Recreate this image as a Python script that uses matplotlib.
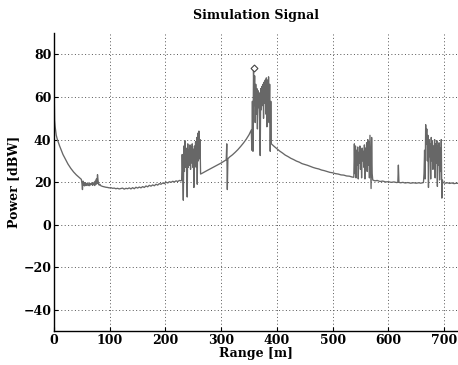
import numpy as np
import matplotlib
matplotlib.use("Agg")
import matplotlib.pyplot as plt

# ---- data (range in m, power in dBW) ----
near_range = [0, 1, 2, 4, 6, 8, 10, 13, 16, 20, 25, 30, 35, 40, 45, 49]
near_power = [66, 49, 46, 42, 40, 38.5, 37, 35, 33, 31, 28.5, 26.5, 24.8, 23.4, 22.2, 21.3]

clutter_start = 50
clutter_power = [19.5, 16.5, 20.5, 18.5, 19.8, 18.2, 19.5, 18.7, 19.2, 18.4,
                 19.6, 18.8, 19.1, 18.3, 19.4, 18.6, 19.3, 18.9, 19.7, 18.5,
                 19.2, 18.8, 19.9, 18.4, 20.5, 18.9, 21.5, 19.3, 23.5, 20.8,
                 19.0, 18.6, 19.0]

floor_start = 84
floor_power = [18.3, 18.0, 17.8, 17.6, 17.5, 17.3, 17.4, 17.1, 17.2, 16.9,
               17.1, 16.8, 17.0, 17.2, 16.7, 17.1, 16.9, 17.3, 16.8, 17.4,
               16.9, 17.6, 17.2, 17.7, 17.3, 17.9, 17.5, 18.2, 17.8, 18.5,
               18.1, 18.7, 18.3, 19.0, 18.6, 19.3, 19.0, 19.6, 19.3, 20.0,
               19.6, 20.2, 19.9, 20.4, 20.1, 20.6, 20.3, 20.8, 20.6]

target1_start = 229
target1_power = [21, 33, 24, 11.5, 37, 25, 39.5, 27, 36, 26,
                 13, 38, 27, 35, 28, 37.5, 26, 36.5, 29, 38,
                 27, 35.5, 17.5, 37, 28, 39, 27, 41, 19, 43,
                 30, 44, 31, 40]

rise_range = [263, 266, 270, 275, 280, 285, 290, 295, 300, 305, 309, 310, 311,
              312, 315, 320, 325, 330, 335, 340, 345, 350, 354]
rise_power = [23.8, 24.2, 24.8, 25.5, 26.2, 26.9, 27.6, 28.3, 29.0, 29.8, 30.5, 38, 16.5,
              31, 31.8, 32.8, 34.0, 35.3, 36.8, 38.4, 40.2, 42.3, 44.5]

main_start = 355
main_power = [35, 58, 34.5, 73.5, 56, 70, 48, 66, 52, 64,
              45, 63, 55, 62, 49, 32.5, 64, 54, 65, 56,
              66, 50, 67, 57, 68, 52, 69, 46, 68, 55,
              69.5, 48, 66, 34.5, 58]

fall_range = [390, 395, 400, 405, 410, 415, 420, 425, 430, 435, 440, 445, 450, 455,
              460, 465, 470, 475, 480, 485, 490, 495, 500, 505, 510, 515, 520,
              525, 530, 535, 538]
fall_power = [38, 36.8, 35.7, 34.6, 33.7, 32.7, 32.0, 31.2, 30.6, 29.9, 29.4, 28.7,
              28.3, 27.9, 27.4, 26.9, 26.5, 26.2, 25.7, 25.4, 25.0, 24.6, 24.4,
              24.0, 23.8, 23.4, 23.3, 22.9, 22.8, 22.4, 22.3]

target2_start = 539
target2_power = [38, 24, 37, 22, 35, 28, 36.5, 21.5, 34, 29,
                 37, 26, 35, 22, 36, 30, 34.5, 27, 37.5, 21.5,
                 36, 29, 38.5, 25, 40, 28, 39, 22, 42, 30,
                 17, 41, 24]

plateau_range = [572, 576, 580, 585, 590, 595, 600, 605, 610, 615, 617, 618, 619,
                 622, 626, 630, 635, 640, 645, 650, 655, 658, 663]
plateau_power = [21, 20.6, 20.8, 20.3, 20.5, 20.1, 20.2, 19.9, 20.1, 19.8, 19.9, 28, 19.9,
                 19.7, 19.9, 19.6, 19.8, 19.5, 19.7, 19.5, 19.7, 19.5, 19.8]

target3_start = 664
target3_power = [24, 35, 21.5, 47, 38, 45, 30, 42, 17.5, 40,
                 32, 38, 21.5, 41, 30, 39, 26, 37, 31, 40,
                 22, 38, 29, 39.5, 18, 37, 28, 38.5, 21, 36,
                 25, 40, 12.5, 21]

tail_range = [698, 702, 706, 710, 714, 718, 722, 726]
tail_power = [19.8, 19.5, 19.7, 19.4, 19.6, 19.3, 19.5, 19.4]

x_ticks = [0, 100, 200, 300, 400, 500, 600, 700]
y_ticks = [-40, -20, 0, 20, 40, 60, 80]


def sampled(start, values):
    """ Range samples at 1 m spacing for a list of power readings. """
    return np.arange(start, start + len(values))


range_m = np.concatenate([near_range,
                          sampled(clutter_start, clutter_power),
                          np.arange(floor_start, floor_start + 3 * len(floor_power), 3),
                          sampled(target1_start, target1_power),
                          rise_range,
                          sampled(main_start, main_power),
                          fall_range,
                          sampled(target2_start, target2_power),
                          plateau_range,
                          sampled(target3_start, target3_power),
                          tail_range])
power_dbw = np.concatenate([near_power, clutter_power, floor_power, target1_power,
                            rise_power, main_power, fall_power, target2_power,
                            plateau_power, target3_power, tail_power])

plt.rcParams['font.family'] = 'DejaVu Serif'
plt.rcParams['font.weight'] = 'bold'

fig = plt.figure(figsize=(4.58, 3.65), dpi=100)
ax = fig.add_axes([0.118, 0.093, 0.882, 0.816])

ax.plot(range_m, power_dbw, color='#676767', linewidth=0.95)

# Peak marker
peak = np.argmax(power_dbw)
ax.plot(range_m[peak], power_dbw[peak], marker='D', markersize=3.5,
        markerfacecolor='white', markeredgecolor='#444444', markeredgewidth=0.8)

ax.set_xlim(0, 725)
ax.set_ylim(-50, 90)
ax.set_xticks(x_ticks)
ax.set_yticks(y_ticks)
ax.grid(True, color='#555555', linestyle=(0, (1, 2.5)), linewidth=0.7)
ax.tick_params(direction='in', length=3, labelsize=9, pad=2)
for lbl in ax.get_xticklabels() + ax.get_yticklabels():
    lbl.set_fontweight('bold')

ax.spines['top'].set_visible(False)
ax.spines['right'].set_visible(False)
ax.spines['left'].set_linewidth(1.0)
ax.spines['bottom'].set_linewidth(1.0)

ax.set_title("Simulation Signal", fontsize=9, fontweight='bold', pad=10)
ax.set_xlabel("Range [m]", fontsize=9, fontweight='bold', labelpad=0)
ax.set_ylabel("Power [dBW]", fontsize=9, fontweight='bold', labelpad=2)

plt.savefig("out.png", dpi=100)
plt.close()
